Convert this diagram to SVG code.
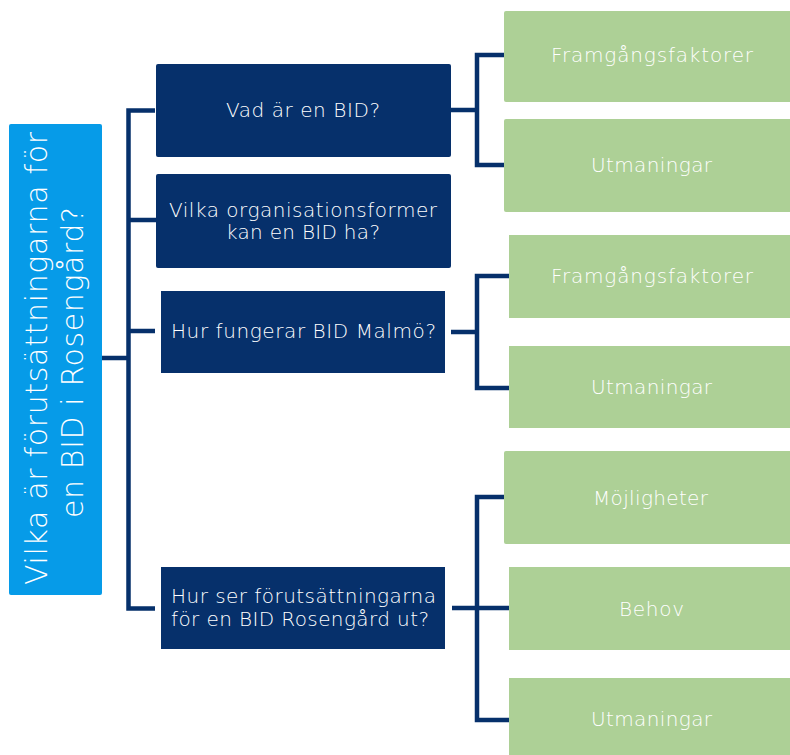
<svg xmlns="http://www.w3.org/2000/svg" width="790" height="755" viewBox="0 0 790 755">
<style>
.root{fill:#069BE8}
.q{fill:#06306B}
.g{fill:#ADD096}
text{font-family:"DejaVu Sans","Liberation Sans",Arial,sans-serif;font-weight:200;text-anchor:middle}
.tq{fill:#ffffff;font-size:20px}
.tg{fill:#ffffff;font-size:20px}
.tr{fill:#ffffff;font-size:30px}
.c{fill:none;stroke:#06306B;stroke-width:4.5;stroke-linejoin:miter}
</style>
<rect width="790" height="755" fill="#ffffff"/>
<g id="connectors">
<path class="c" d="M102 358H129M155 110.5H128.5V608.5H155M129 220H156M129 331H155"/>
<path class="c" d="M451 110H477M504 55H477V165H504"/>
<path class="c" d="M451 332H477M509 276H477V388H509"/>
<path class="c" d="M452 608H509M504 497H477V720H509"/>
</g>
<g id="root">
<rect class="root" x="9" y="124" width="93" height="471" rx="2"/>
<text class="tr" transform="translate(47,358.5) rotate(-90)" textLength="453" lengthAdjust="spacing">Vilka är förutsättningarna för</text>
<text class="tr" transform="translate(83,362.5) rotate(-90)" textLength="311" lengthAdjust="spacing">en BID i Rosengård?</text>
</g>
<g id="q1">
<rect class="q" x="156" y="64" width="295" height="93" rx="2"/>
<text class="tq" x="303" y="117" textLength="154" lengthAdjust="spacing">Vad är en BID?</text>
</g>
<g id="q2">
<rect class="q" x="156" y="174" width="295" height="94" rx="2"/>
<text class="tq" x="303" y="217" textLength="268" lengthAdjust="spacing">Vilka organisationsformer</text>
<text class="tq" x="303" y="239" textLength="154" lengthAdjust="spacing">kan en BID ha?</text>
</g>
<g id="q3">
<rect class="q" x="161" y="291" width="284" height="82"/>
<text class="tq" x="303.5" y="338" textLength="265" lengthAdjust="spacing">Hur fungerar BID Malmö?</text>
</g>
<g id="q4">
<rect class="q" x="161" y="567" width="284" height="82"/>
<text class="tq" x="303.5" y="603" textLength="265" lengthAdjust="spacing">Hur ser förutsättningarna</text>
<text class="tq" x="300" y="626" textLength="258" lengthAdjust="spacing">för en BID Rosengård ut?</text>
</g>
<g id="a1">
<rect class="g" x="504" y="11" width="290" height="91" rx="2"/>
<text class="tg" x="652" y="62" textLength="202" lengthAdjust="spacing">Framgångsfaktorer</text>
</g>
<g id="a2">
<rect class="g" x="504" y="119" width="290" height="93" rx="2"/>
<text class="tg" x="651.5" y="172" textLength="121" lengthAdjust="spacing">Utmaningar</text>
</g>
<g id="b1">
<rect class="g" x="509" y="235" width="285" height="83"/>
<text class="tg" x="652" y="283" textLength="202" lengthAdjust="spacing">Framgångsfaktorer</text>
</g>
<g id="b2">
<rect class="g" x="509" y="346" width="285" height="82"/>
<text class="tg" x="651.5" y="394" textLength="121" lengthAdjust="spacing">Utmaningar</text>
</g>
<g id="c1">
<rect class="g" x="504" y="451" width="290" height="93" rx="2"/>
<text class="tg" x="650.5" y="505" textLength="115" lengthAdjust="spacing">Möjligheter</text>
</g>
<g id="c2">
<rect class="g" x="509" y="567" width="285" height="83"/>
<text class="tg" x="651.5" y="616" textLength="65" lengthAdjust="spacing">Behov</text>
</g>
<g id="c3">
<rect class="g" x="509" y="678" width="285" height="80"/>
<text class="tg" x="651.5" y="726" textLength="121" lengthAdjust="spacing">Utmaningar</text>
</g>
</svg>
